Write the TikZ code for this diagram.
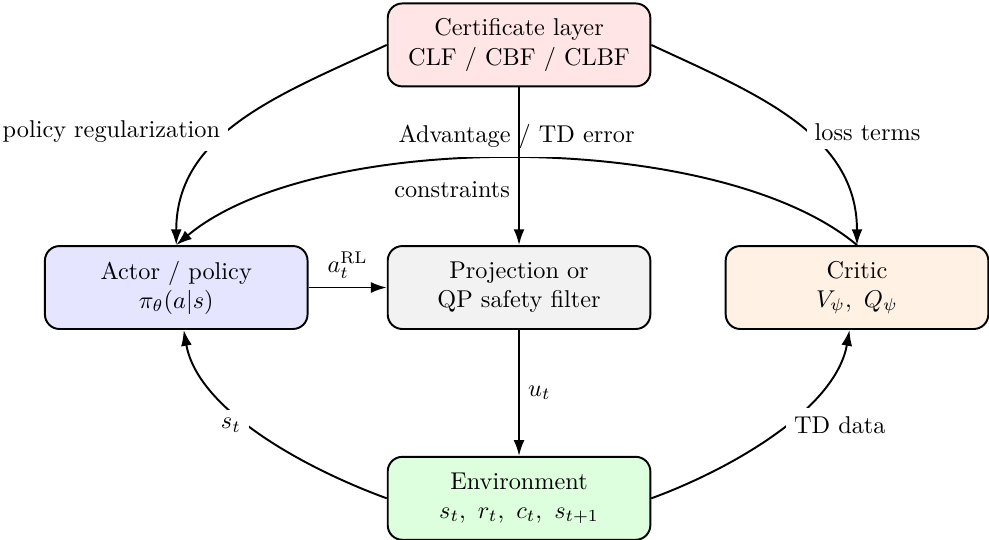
\documentclass[tikz,border=0pt]{standalone}
\usepackage{amsmath}
\usepackage{tikz}
\usetikzlibrary{arrows.meta}
\usetikzlibrary{positioning}

\begin{document}
\begin{tikzpicture}[internal/.style={draw, thick, rectangle, rounded corners=6pt, minimum width=3.8cm, minimum height=1.2cm, inner sep=4pt},
			every text node part/.style={align=center}, >={Latex[length=6.5pt, width=4.5pt]}]
			\useasboundingbox (0, 0) rectangle (14.31, -7.81);
			\node[internal, fill=red!10](node1) at (7.51, -0.65) {Certificate layer \\ CLF / CBF / CLBF};
			
			\node[internal, fill=blue!10](node2) at (2.55, -4.16) {Actor / policy \\ $\pi_\theta(a|s)$};
			\node[internal, fill=gray!10](node3) at (7.51, -4.16) {Projection or \\ QP safety filter};
			\node[internal, fill=orange!10](node4) at (12.40, -4.16) {Critic \\ $V_\psi,\ Q_\psi$};
			
			\node[internal, fill=green!13](node5) at (7.51, -7.21) {Environment \\ $s_t,\ r_t,\ c_t,\ s_{t+1}$};
			
			% certificate feeds the learners
			\draw[->, thick] (node4.north) to[out=140, in=40, looseness=0.68] node[midway, above, fill=white] {Advantage / TD error} (node2.north);
			\draw[->, thick] (node1.west) to[out=205, in=90] node[pos=0.56, left, fill=white] {policy regularization} (node2.north);
			\draw[->, thick] (node1.east) to[out=-25, in=90] node[pos=0.56, right, fill=white] {loss terms} (node4.north);
			\draw[->, thick] (node1) edge node[pos=0.65, left] {constraints} (node3);
			
			\draw[->, thick] (node2) edge node[above] {$a_t^{\mathrm{RL}}$} (node3);
			\draw[->, thick] (node3) edge node[right] {$u_t$} (node5);
			
			% environment loop
			\draw[->, thick] (node5.west) to[out=160, in=-80, looseness=0.8] node[pos=0.55, left, fill=white] {$s_t$} (node2);
			\draw[->, thick] (node5.east) to[out=20, in=-100, looseness=0.8] node[pos=0.55, right, fill=white] {TD data} (node4);
			\end{tikzpicture}
\end{document}
